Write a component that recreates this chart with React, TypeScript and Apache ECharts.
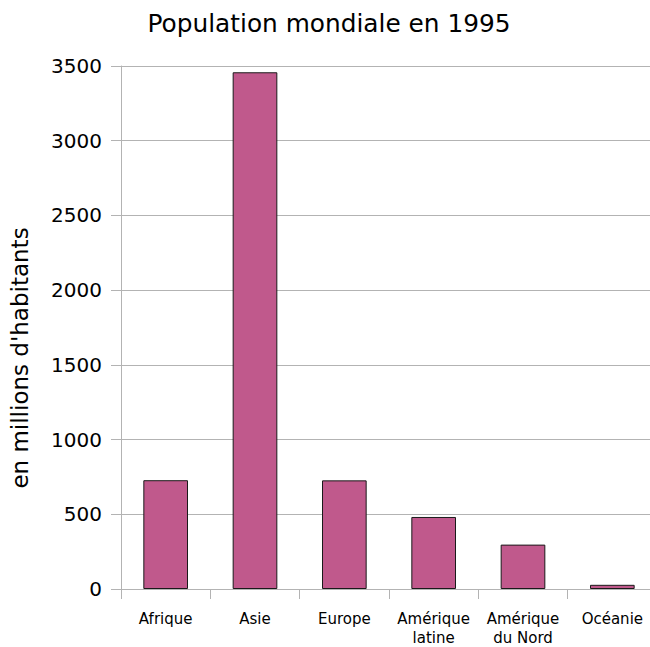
import React, { useEffect, useRef } from "react";
import * as echarts from "echarts";

const categories = ["Afrique", "Asie", "Europe", "Amérique\nlatine", "Amérique\ndu Nord", "Océanie"];
const population = [728, 3458, 727, 482, 297, 28];
const yMin = 0;
const yMax = 3500;
const yStep = 500;
const titleText = "Population mondiale en 1995";
const yName = "en millions d'habitants";

const FONT = "DejaVu Sans";
const GRID = "#b3b3b3";

export default function App() {
  const ref = useRef<HTMLDivElement>(null);
  useEffect(() => {
    if (!ref.current) return;
    const chart = echarts.init(ref.current, undefined, { renderer: "svg" });
    chart.setOption({
      animation: false,
      backgroundColor: "#ffffff",
      title: {
        text: titleText,
        left: 329,
        top: 11,
        textAlign: "center",
        padding: 0,
        textStyle: { fontFamily: FONT, fontSize: 24.8, fontWeight: "normal", color: "#000" },
      },
      graphic: [
        {
          type: "text",
          x: 20,
          y: 358,
          rotation: Math.PI / 2,
          style: {
            text: yName,
            fontFamily: FONT,
            fontSize: 23,
            fill: "#000",
            textAlign: "center",
            textVerticalAlign: "middle",
          },
        },
      ],
      grid: { left: 121, right: 0, top: 66, bottom: 50.5, containLabel: false },
      xAxis: {
        type: "category",
        data: categories,
        boundaryGap: true,
        axisLine: { show: true, lineStyle: { color: GRID, width: 1 } },
        axisTick: { show: true, length: 10, lineStyle: { color: GRID, width: 1 } },
        axisLabel: {
          fontFamily: FONT,
          fontSize: 15,
          color: "#000",
          margin: 20,
          lineHeight: 19,
          interval: 0,
        },
        splitLine: { show: false },
      },
      yAxis: {
        type: "value",
        min: yMin,
        max: yMax,
        interval: yStep,
        axisLine: { show: true, lineStyle: { color: GRID, width: 1 } },
        axisTick: { show: true, length: 10, lineStyle: { color: GRID, width: 1 } },
        axisLabel: {
          fontFamily: FONT,
          fontSize: 20,
          color: "#000",
          margin: 19,
          formatter: (v: number) => String(v),
        },
        splitLine: { show: true, lineStyle: { color: GRID, width: 1 } },
      },
      series: [
        {
          type: "bar",
          data: population,
          barWidth: "50%",
          itemStyle: { color: "#c0598c", borderColor: "#1a1a1a", borderWidth: 1 },
        },
      ],
    });
    return () => chart.dispose();
  }, []);
  return (
    <div
      style={{
        position: "fixed",
        left: 0,
        top: 0,
        width: 650,
        height: 647,
        overflow: "hidden",
        background: "#fff",
      }}
    >
      <div ref={ref} style={{ width: 657, height: 647 }} />
    </div>
  );
}
